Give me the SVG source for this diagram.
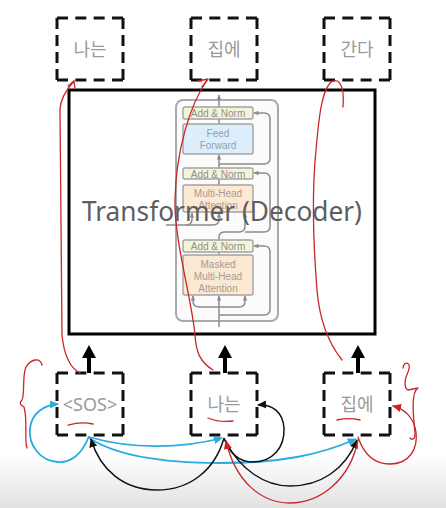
<svg xmlns="http://www.w3.org/2000/svg" width="446" height="508" viewBox="0 0 446 508">
<defs>
<linearGradient id="bg" x1="0" y1="0" x2="0" y2="1">
<stop offset="0" stop-color="#ffffff"/>
<stop offset="1" stop-color="#e2e2e2"/>
</linearGradient>
<marker id="mb" viewBox="0 0 10 10" refX="9" refY="5" markerWidth="9" markerHeight="9" orient="auto" markerUnits="userSpaceOnUse"><path d="M0,0.5 L10,5 L0,9.5 z" fill="#28ace0"/></marker>
<marker id="mk" viewBox="0 0 10 10" refX="9" refY="5" markerWidth="9" markerHeight="9" orient="auto" markerUnits="userSpaceOnUse"><path d="M0,0.5 L10,5 L0,9.5 z" fill="#111"/></marker>
<marker id="mr" viewBox="0 0 10 10" refX="9" refY="5" markerWidth="9" markerHeight="9" orient="auto" markerUnits="userSpaceOnUse"><path d="M0,0.5 L10,5 L0,9.5 z" fill="#d0201e"/></marker>
<marker id="mg" viewBox="0 0 10 10" refX="9" refY="5" markerWidth="5" markerHeight="5" orient="auto" markerUnits="userSpaceOnUse"><path d="M0,0.5 L10,5 L0,9.5 z" fill="#8c8c8c"/></marker>
</defs>
<style>
.dh{stroke:#111;stroke-width:3;stroke-dasharray:11 7.33;fill:none}
.dv{stroke:#111;stroke-width:3;stroke-dasharray:11 6;fill:none}
.word{font-family:"Noto Sans","Noto Sans CJK KR",sans-serif;font-size:18px;fill:#9a9a9a;text-anchor:middle}
.an{fill:#f3f5d9;stroke:#a3a3a3;stroke-width:1.4}
.ff{fill:#dcedfb;stroke:#a3a3a3;stroke-width:1.4}
.mha{fill:#fce9d4;stroke:#a3a3a3;stroke-width:1.4}
.small{font-family:"Liberation Sans",Arial,sans-serif;font-size:10px;fill:#8f8f8f;text-anchor:middle}
.ffl{fill:#8ea3b8}
.mhl{fill:#a59c94}
.flow{stroke:#8c8c8c;stroke-width:1.5;fill:none}
.blue{stroke:#28ace0;stroke-width:1.8;fill:none}
.blk{stroke:#111;stroke-width:1.5;fill:none}
.red{stroke:#c8262a;stroke-width:1.3;fill:none;stroke-linecap:round;stroke-linejoin:round}
.thick{fill:#000}
</style>
<rect x="0" y="0" width="446" height="508" fill="#fff"/>
<rect x="0" y="455" width="446" height="53" fill="url(#bg)"/>

<!-- top output nodes -->
<g id="out-naneun">
<path class="dh" d="M57,18H123M57,80H123"/><path class="dv" d="M57,18V80M123,18V80"/>
<text class="word" x="90" y="56">나는</text>
</g>
<g id="out-jibe">
<path class="dh" d="M191,18H257M191,80H257"/><path class="dv" d="M191,18V80M257,18V80"/>
<text class="word" x="224" y="56">집에</text>
</g>
<g id="out-ganda">
<path class="dh" d="M324,18H390M324,80H390"/><path class="dv" d="M324,18V80M390,18V80"/>
<text class="word" x="357" y="56">간다</text>
</g>

<!-- decoder -->
<g id="decoder">
<rect x="69" y="90" width="306" height="244" fill="none" stroke="#000" stroke-width="3"/>
<rect x="176" y="100" width="102" height="221" rx="7" fill="#fbfbfb" stroke="#a9a9a9" stroke-width="2"/>
<g>
<path class="flow" d="M219,107V95" marker-end="url(#mg)"/>
<path class="flow" d="M219,119V124"/>
<path class="flow" d="M219,168V155" marker-end="url(#mg)"/>
<path class="flow" d="M219,164H264Q270,164 270,158V119Q270,113 264,113H254" marker-end="url(#mg)"/>
<path class="flow" d="M219,179V185"/>
<path class="flow" d="M166,225H213Q219,225 219,219V213" marker-end="url(#mg)"/>
<path class="flow" d="M186,225Q192,225 192,219V213" marker-end="url(#mg)"/>
<path class="flow" d="M219,240V237Q219,232 225,232H239Q245,232 245,226V213" marker-end="url(#mg)"/>
<path class="flow" d="M245,232H264Q270,232 270,226V179Q270,173 264,173H254" marker-end="url(#mg)"/>
<path class="flow" d="M219,252V255"/>
<path class="flow" d="M219,327V296" marker-end="url(#mg)"/>
<path class="flow" d="M219,307H199Q193,307 193,301V296" marker-end="url(#mg)"/>
<path class="flow" d="M219,307H239Q245,307 245,301V296" marker-end="url(#mg)"/>
<path class="flow" d="M219,315H264Q270,315 270,309V252Q270,246 264,246H254" marker-end="url(#mg)"/>
</g>
<rect class="an" x="183" y="107" width="70" height="12" rx="2"/>
<text class="small" x="218" y="117">Add &amp; Norm</text>
<rect class="ff" x="183" y="124" width="70" height="30" rx="2"/>
<text class="small ffl" x="218" y="137">Feed</text>
<text class="small ffl" x="218" y="149">Forward</text>
<rect class="an" x="183" y="168" width="70" height="11" rx="2"/>
<text class="small" x="218" y="177.5">Add &amp; Norm</text>
<rect class="mha" x="183" y="185" width="70" height="27" rx="2"/>
<text class="small mhl" x="218" y="197">Multi-Head</text>
<text class="small mhl" x="218" y="208.5">Attention</text>
<rect class="an" x="183" y="240" width="70" height="12" rx="2"/>
<text class="small" x="218" y="250">Add &amp; Norm</text>
<rect class="mha" x="183" y="255" width="70" height="40" rx="2"/>
<text class="small mhl" x="218" y="268">Masked</text>
<text class="small mhl" x="218" y="280">Multi-Head</text>
<text class="small mhl" x="218" y="292">Attention</text>
<text x="222" y="221" font-family="'Noto Sans','Open Sans',sans-serif" font-size="27" fill="#5e5e5e" text-anchor="middle" textLength="280" lengthAdjust="spacingAndGlyphs">Transformer (Decoder)</text>
</g>

<!-- bottom input nodes -->
<g id="in-sos">
<path class="dh" d="M57,373H123M57,435H123"/><path class="dv" d="M57,373V435M123,373V435"/>
<text class="word" x="90" y="411">&lt;SOS&gt;</text>
</g>
<g id="in-naneun">
<path class="dh" d="M191,373H257M191,435H257"/><path class="dv" d="M191,373V435M257,373V435"/>
<text class="word" x="224" y="411">나는</text>
</g>
<g id="in-jibe">
<path class="dh" d="M324,373H390M324,435H390"/><path class="dv" d="M324,373V435M390,373V435"/>
<text class="word" x="357" y="411">집에</text>
</g>

<!-- connectors -->
<g id="connectors">
<path class="thick" d="M87,373V358H82L89,345L96,358H91V373Z"/>
<path class="thick" d="M223,373V358H218L225,345L232,358H227V373Z"/>
<path class="thick" d="M356,373V358H351L358,345L365,358H360V373Z"/>

<path class="blue" d="M89,436C82,455 70,463 58,462C40,461 28,445 30,428C32,413 44,405 58,404" marker-end="url(#mb)"/>
<path class="blue" d="M89,437C130,449 180,449 222,438" marker-end="url(#mb)"/>
<path class="blue" d="M89,438C120,458 170,463 220,463C280,463 320,455 356,439" marker-end="url(#mb)"/>

<path class="blk" d="M224,438C215,470 190,490 157,490C124,490 100,470 91,439" marker-end="url(#mk)"/>
<path class="blk" d="M224,438C230,455 240,462 253,462C272,462 285,448 284,428C283,412 272,404 258,405" marker-end="url(#mk)"/>
<path class="blk" d="M225,440C240,470 265,486 290,486C320,486 345,470 357,440" marker-end="url(#mk)"/>
<path class="red" d="M358,440C350,480 320,503 290,503C260,503 235,480 226,441" marker-end="url(#mr)"/>
<path class="red" d="M358,437C364,455 375,464 390,464C410,464 418,448 416,432C414,418 405,409 393,406" marker-end="url(#mr)"/>
</g>

<!-- hand annotations -->
<g id="annotations">
<path class="red" d="M80,373C70,368 64,355 62,335L60,110C60,100 66,90 74,81"/>
<path class="red" d="M74,81L68,86M74,81L75,89"/>
<path class="red" d="M213,370C200,362 196,352 195,335C192,300 174,240 175,200C176,150 190,105 207,80"/>
<path class="red" d="M208,79L198,81M208,79L202,87"/>
<path class="red" d="M342,360C330,345 320,325 317,290C313,240 312,190 316,150C319,115 322,92 330,83C337,77 345,82 343,107"/>
<path class="red" d="M42,365C40,357 31,359 26,367C22,375 25,395 22,400C19,403 20,405 24,407C28,420 24,440 27,448"/>
<path class="red" d="M403,368C404,360 412,362 408,372C404,380 404,388 408,390L418,388C410,393 414,420 415,434C415,440 412,440 410,438"/>
<path class="red" d="M68,425C75,423 85,422 93,424"/>
<path class="red" d="M208,418C215,421 225,422 233,421"/>
<path class="red" d="M337,420C345,418 352,418 360,420"/>
</g>
</svg>
